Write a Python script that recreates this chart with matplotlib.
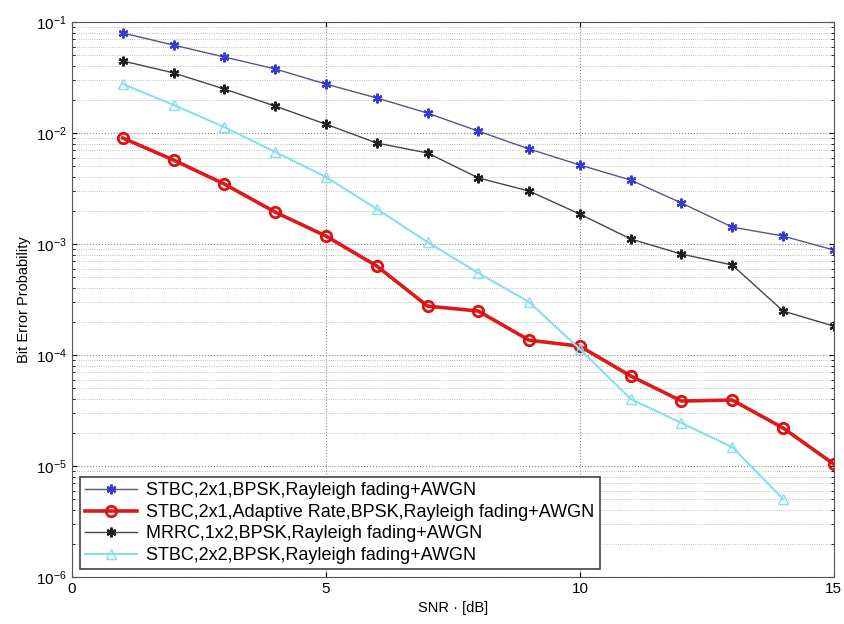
import matplotlib
matplotlib.use("Agg")
import matplotlib.pyplot as plt
import numpy as np

snr = [1, 2, 3, 4, 5, 6, 7, 8, 9, 10, 11, 12, 13, 14, 15]
snr_2x2 = [1, 2, 3, 4, 5, 6, 7, 8, 9, 10, 11, 12, 13, 14]

ber_stbc21 = [0.0796, 0.062, 0.0484, 0.0378, 0.0276, 0.0207, 0.0151, 0.0104,
              0.00718, 0.00515, 0.00377, 0.00234, 0.00142, 0.00118, 0.000883]
ber_adaptive = [0.00902, 0.00571, 0.00347, 0.00194, 0.00118, 0.000634, 0.000276,
                0.000249, 0.000136, 0.000120, 6.47e-5, 3.85e-5, 3.93e-5, 2.20e-5, 1.04e-5]
ber_mrrc = [0.0446, 0.0348, 0.0249, 0.0175, 0.0120, 0.00813, 0.00661, 0.00394,
            0.00300, 0.00186, 0.00111, 0.000812, 0.000647, 0.000249, 0.000182]
ber_stbc22 = [0.0276, 0.0179, 0.0113, 0.00675, 0.00402, 0.00207, 0.00104, 0.000548,
              0.000300, 0.000113, 4.02e-5, 2.44e-5, 1.48e-5, 5.05e-6]

labels = ["STBC,2x1,BPSK,Rayleigh fading+AWGN",
          "STBC,2x1,Adaptive Rate,BPSK,Rayleigh fading+AWGN",
          "MRRC,1x2,BPSK,Rayleigh fading+AWGN",
          "STBC,2x2,BPSK,Rayleigh fading+AWGN"]

plt.rcParams['font.family'] = ['Liberation Sans', 'DejaVu Sans']
fig = plt.figure(figsize=(8.44, 6.24), dpi=100)
ax = fig.add_axes([0.0853, 0.0753, 0.9027, 0.8894])

asterisk = (6, 2, 0)
ax.semilogy(snr, ber_stbc21, color='#55558a', lw=1.0, marker=asterisk, ms=7, mew=1.6,
            mfc='#3a3ad0', mec='#3a3ad0', label=labels[0])
ax.semilogy(snr, ber_adaptive, color='#dd1a1a', lw=2.6, marker='o', ms=7.5,
            mfc='none', mec='#e01010', mew=2, label=labels[1])
ax.semilogy(snr, ber_mrrc, color='#454545', lw=1.0, marker=asterisk, ms=7, mew=1.6,
            mfc='#202020', mec='#202020', label=labels[2])
ax.semilogy(snr_2x2, ber_stbc22, color='#85e0ec', lw=1.5, marker='^', ms=6.5,
            mfc='none', mec='#85e0ec', label=labels[3])

ax.set_xlim(0, 15)
ax.set_ylim(1e-6, 1e-1)
ax.set_xticks([0, 5, 10, 15])
ax.tick_params(which='both', direction='in', top=True, right=True, labelsize=11)
ax.grid(True, which='major', ls=':', color='#888888', lw=0.8)
ax.grid(True, which='minor', ls=':', color='#aaaaaa', lw=0.6)
ax.set_xlabel("SNR · [dB]", fontsize=10.5)
ax.set_ylabel("Bit Error Probability", fontsize=10.5)
for s in ax.spines.values():
    s.set_color('#555555')

leg = ax.legend(loc='lower left', fontsize=13, fancybox=False, framealpha=1,
                edgecolor='#444444', borderaxespad=0.42, handlelength=2.9,
                handletextpad=0.5, labelspacing=0.25, borderpad=0.3)
leg.get_frame().set_linewidth(1.2)

fig.savefig("out.png", dpi=100)
